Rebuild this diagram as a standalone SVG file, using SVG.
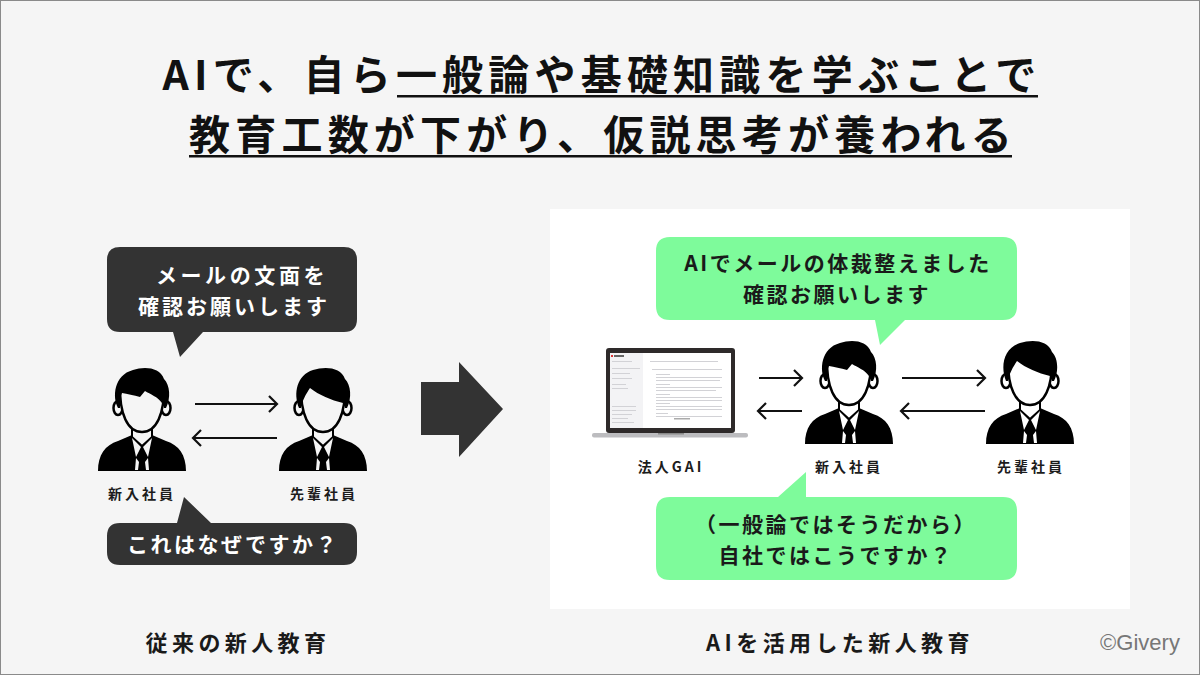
<svg xmlns="http://www.w3.org/2000/svg" width="1200" height="675" viewBox="0 0 1200 675">
<style>
text{font-family:"Noto Sans CJK JP","Noto Sans",sans-serif;font-weight:700;text-anchor:middle}
.title{font-size:41px;letter-spacing:5.200px;fill:#111}
.dark{fill:#333}
.green{fill:#7efb9b}
.bw{font-size:21px;letter-spacing:3px;fill:#fff}
.bk{font-size:21px;letter-spacing:2.500px;fill:#1a1a1a}
.name{font-size:14px;letter-spacing:3px;fill:#1c1c1c}
.cap{font-size:22px;letter-spacing:4.400px;fill:#1a1a1a}
.conn{fill:none;stroke:#111;stroke-width:2.200}
.sl{fill:#d2d2d6}
.onbg{color:#f5f5f5}
.onwhite{color:#fff}
</style>
<defs>
<marker id="open" markerUnits="userSpaceOnUse" markerWidth="16" markerHeight="22" refX="13" refY="11" orient="auto"><path d="M5 3L13 11L5 19" fill="none" stroke="#111" stroke-width="2.200"/></marker>
<g id="body">
<path d="M0 104C0 88 7 78 20 74L34 68H54L68 74C81 78 88 88 88 104Z" fill="#000"/>
<path d="M34 56V70L44 79L54 70V56Z" fill="currentColor" stroke="#000" stroke-width="2"/>
<path d="M34 71L43 80L38 90Z M54 71L45 80L50 90Z" fill="currentColor"/>
<path d="M38 91L41 95L40 103H37Z M50 91L47 95L48 103H51Z" fill="currentColor"/>
<ellipse cx="20" cy="41" rx="4.500" ry="7" fill="currentColor" stroke="#000" stroke-width="2.500"/>
<ellipse cx="68" cy="41" rx="4.500" ry="7" fill="currentColor" stroke="#000" stroke-width="2.500"/>
<path d="M22 16C21 48 30 65 44 65C58 65 67 48 66 16" fill="currentColor" stroke="#000" stroke-width="2.500"/>
</g>
<g id="personA">
<use href="#body"/>
<path d="M20 41C14 30 16 8 35 3C46 -1 62 0 66 12C72 18 73 31 68 41L66 41C66 39 65 37 64 36C60 30 52 27 47 24L42 30C36 28 29 27 24 26C22 30 22 36 22 41Z" fill="#000"/>
</g>
<g id="personB">
<use href="#body"/>
<path d="M20 41C14 26 18 8 34 3C46 -1 62 0 66 12C72 18 73 31 68 41L66 41C66 39 65 37 64 36C52 33 40 28 31 21C27 27 23 34 22 41Z" fill="#000"/>
</g>
</defs>
<rect x="0.5" y="0.5" width="1199" height="674" fill="#f5f5f5" stroke="#8a8a8a"/>
<rect x="550" y="209" width="580" height="400" fill="#fff"/>
<g id="title">
<text class="title" x="602" y="90">AIで、自ら一般論や基礎知識を学ぶことで</text>
<text class="title" x="603" y="150">教育工数が下がり、仮説思考が養われる</text>
<rect x="397" y="95" width="641" height="2.500" fill="#111"/>
<rect x="189" y="155" width="823" height="2.500" fill="#111"/>
</g>
<g id="connectors">
<path class="conn" d="M195 404H277" marker-end="url(#open)"/>
<path class="conn" d="M277 438H193" marker-end="url(#open)"/>
<path class="conn" d="M759 378H802" marker-end="url(#open)"/>
<path class="conn" d="M802 411H758" marker-end="url(#open)"/>
<path class="conn" d="M902 378H985" marker-end="url(#open)"/>
<path class="conn" d="M985 411H901" marker-end="url(#open)"/>
<path id="big-arrow" d="M421 382H459V362L503 409L459 457V435H421Z" fill="#333"/>
</g>
<g id="bubble-left-top">
<path class="dark" d="M120 247H344Q357 247 357 260V319Q357 332 344 332H203L180 357L173 332H120Q107 332 107 319V260Q107 247 120 247Z"/>
<text class="bw" x="242" y="283" style="letter-spacing:3.600px">メールの文面を</text>
<text class="bw" x="234" y="314">確認お願いします</text>
</g>
<g id="bubble-left-bottom">
<path class="dark" d="M120 523H177L184 497L211 523H344Q357 523 357 536V552Q357 565 344 565H120Q107 565 107 552V536Q107 523 120 523Z"/>
<text class="bw" x="233" y="552" style="letter-spacing:2.500px">これはなぜですか？</text>
</g>
<g id="left-new-employee" class="onbg">
<use href="#personA" x="98" y="367"/>
<text class="name" x="142" y="499">新入社員</text>
</g>
<g id="left-senior" class="onbg">
<use href="#personB" x="279" y="367"/>
<text class="name" x="324" y="499">先輩社員</text>
</g>
<g id="caption-left"><text class="cap" x="238" y="651">従来の新人教育</text></g>
<g id="bubble-right-top">
<path class="green" d="M670 237H1003Q1017 237 1017 251V306Q1017 320 1003 320H905L880 345L875 320H670Q656 320 656 306V251Q656 237 670 237Z"/>
<text class="bk" x="838" y="271">AIでメールの体裁整えました</text>
<text class="bk" x="837" y="302">確認お願いします</text>
</g>
<g id="bubble-right-bottom">
<path class="green" d="M670 497H778L806 472L806 497H1003Q1017 497 1017 511V566Q1017 580 1003 580H670Q656 580 656 566V511Q656 497 670 497Z"/>
<text class="bk" x="836" y="532">（一般論ではそうだから）</text>
<text class="bk" x="836" y="563">自社ではこうですか？</text>
</g>
<g id="laptop">
<rect x="606" y="348" width="129" height="85" rx="3" fill="#2e2a2a"/>
<rect x="610" y="353" width="121" height="75" fill="#fff"/>
<rect x="610" y="353" width="33" height="75" fill="#f3f3f5"/>
<rect x="611" y="355" width="2" height="2" fill="#d33"/>
<rect x="614" y="355" width="10" height="2" fill="#666"/>
<rect x="612" y="361" width="20" height="1" class="sl"/><rect x="612" y="368" width="28" height="1" class="sl"/><rect x="612" y="373" width="18" height="1" class="sl"/><rect x="612" y="378" width="20" height="1" class="sl"/><rect x="612" y="384" width="14" height="1" class="sl"/><rect x="612" y="388" width="16" height="1" class="sl"/><rect x="612" y="406" width="24" height="1" class="sl"/><rect x="612" y="410" width="24" height="1" class="sl"/><rect x="612" y="414" width="20" height="1" class="sl"/><rect x="612" y="418" width="16" height="1" class="sl"/><rect x="612" y="422" width="22" height="1" class="sl"/>
<rect x="650" y="361" width="68" height="1" class="sl"/><rect x="652" y="369" width="70" height="1" class="sl"/>
<rect x="656" y="374" width="14" height="1" class="sl"/><rect x="656" y="377" width="66" height="1" class="sl"/><rect x="656" y="380" width="64" height="1" class="sl"/><rect x="656" y="384" width="14" height="1" class="sl"/><rect x="656" y="387" width="66" height="1" class="sl"/><rect x="656" y="390" width="60" height="1" class="sl"/><rect x="656" y="394" width="14" height="1" class="sl"/><rect x="656" y="397" width="66" height="1" class="sl"/><rect x="656" y="400" width="66" height="1" class="sl"/><rect x="656" y="403" width="14" height="1" class="sl"/><rect x="656" y="406" width="66" height="1" class="sl"/><rect x="656" y="409" width="66" height="1" class="sl"/><rect x="656" y="413" width="12" height="1" class="sl"/><rect x="656" y="416" width="66" height="1" class="sl"/><rect x="674" y="418" width="16" height="1.500" fill="#aaa"/>
<rect x="592" y="433" width="156" height="4.500" rx="2" fill="#bcbcbf"/>
<rect x="658" y="433" width="26" height="1.500" fill="#8a8a8a"/>
<text class="name" x="671" y="472">法人GAI</text>
</g>
<g id="right-new-employee" class="onwhite">
<use href="#personA" x="805" y="340"/>
<text class="name" x="849" y="472">新入社員</text>
</g>
<g id="right-senior" class="onwhite">
<use href="#personB" x="986" y="340"/>
<text class="name" x="1031" y="472">先輩社員</text>
</g>
<g id="caption-right"><text class="cap" x="840" y="651">AIを活用した新人教育</text></g>
<text x="1140" y="650" style="font-family:'Liberation Sans',sans-serif;font-weight:400;font-size:22px;fill:#777">©Givery</text>
</svg>
